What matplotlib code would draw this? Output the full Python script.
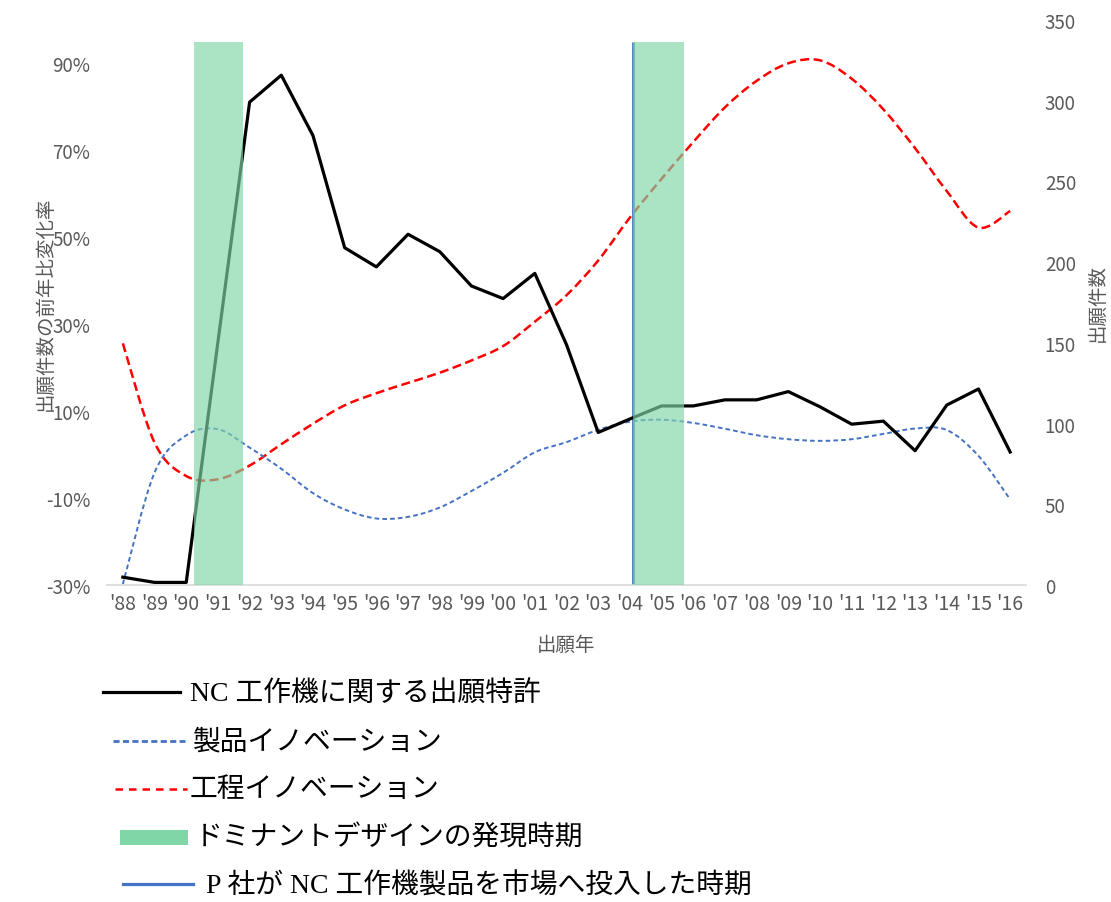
import matplotlib
matplotlib.use("Agg")
import matplotlib.pyplot as plt
from matplotlib.lines import Line2D
from matplotlib.patches import Rectangle, PathPatch
from matplotlib.path import Path

plt.rcParams["font.family"] = ["Noto Sans CJK JP", "DejaVu Sans"]

# ---- data -------------------------------------------------------------
years = list(range(1988, 2017))
year_labels = ["'" + str(y)[2:] for y in years]

# year-over-year change in NC machine-tool patent applications (%)
patent_growth = [-28.2, -29.4, -29.4, 25.9, 81.1, 87.3, 73.4, 47.6, 43.2, 50.7,
                 46.7, 38.8, 35.9, 41.7, 25.3, 5.1, 8.2, 11.2, 11.2, 12.6,
                 12.6, 14.5, 11.0, 7.0, 7.7, 0.9, 11.4, 15.1, 0.6]

# application counts (right axis)
product_innov = [0.5, 69.6, 92.7, 96.5, 85.1, 72, 56.9, 46.8, 41.2, 42.2,
                 48, 58.2, 69.5, 82.2, 88.5, 96.1, 101.2, 102.4, 100.4, 96.8,
                 92.8, 90.3, 89.3, 90.3, 93.6, 96.9, 96.0, 80.0, 53.0]
process_innov = [149.7, 88.2, 67.5, 65.5, 74.0, 87.2, 99.9, 111.3, 118.8, 125.2,
                 131.5, 139.1, 148, 163.1, 179.5, 201, 227.6, 251.6, 274.4, 295.9,
                 312.3, 323.2, 325, 313.6, 294.6, 270.6, 244, 221.4, 231.7]

dominant_periods = [(1990.25, 1991.8), (2004.1, 2005.7)]
market_entry_year = 2004.1
band_top = 95  # % on left axis

left_ticks = list(range(-30, 91, 20))
right_ticks = list(range(0, 351, 50))

legend_labels = [
    "NC 工作機に関する出願特許",
    "製品イノベーション",
    "工程イノベーション",
    "ドミナントデザインの発現時期",
    "P 社が NC 工作機製品を市場へ投入した時期",
]

# ---- styling -----------------------------------------------------------
GRAY = "#595959"
BLUE = "#4472c4"
RED = "#ff0000"
GREEN = "#80d6a7"
W, H = 1111, 903


def smooth_path(xs, ys):
    """Catmull-Rom style smoothed path through the points (like a smoothed line)."""
    pts = list(zip(xs, ys))
    verts = [pts[0]]
    codes = [Path.MOVETO]
    n = len(pts)
    for i in range(n - 1):
        p0 = pts[i - 1] if i > 0 else pts[i]
        p1 = pts[i]
        p2 = pts[i + 1]
        p3 = pts[i + 2] if i + 2 < n else pts[i + 1]
        c1 = (p1[0] + (p2[0] - p0[0]) / 6, p1[1] + (p2[1] - p0[1]) / 6)
        c2 = (p2[0] - (p3[0] - p1[0]) / 6, p2[1] - (p3[1] - p1[1]) / 6)
        verts += [c1, c2, p2]
        codes += [Path.CURVE4] * 3
    return Path(verts, codes)


fig = plt.figure(figsize=(W / 100, H / 100), dpi=100)
ax = fig.add_axes([107 / W, 1 - 586 / H, (1026 - 107) / W, (586 - 21) / H])
ax2 = ax.twinx()
ax.set_zorder(ax2.get_zorder() + 1)
ax.patch.set_visible(False)

# trend curves on the count axis
ax2.add_patch(PathPatch(smooth_path(years, process_innov), fill=False,
                        edgecolor=RED, lw=1.8, linestyle=(0, (3.6, 1.8))))
ax2.add_patch(PathPatch(smooth_path(years, product_innov), fill=False,
                        edgecolor=BLUE, lw=1.4, linestyle=(0, (2.4, 1.6))))

# market entry line and patent growth
ax.vlines(market_entry_year, left_ticks[0], band_top, color=BLUE, lw=2.0, zorder=2)
ax.plot(years, patent_growth, color="black", lw=2.3, zorder=3)

# dominant design periods (translucent bands on top)
for s, e in dominant_periods:
    ax.axvspan(s, e, ymin=0, ymax=(band_top + 30) / 130, color=GREEN,
               alpha=0.66, lw=0, zorder=4)

ax.set_xlim(1987.5, 2016.5)
ax.set_ylim(-30, 100)
ax2.set_ylim(0, 350)

ax.set_xticks(years)
ax.set_xticklabels(year_labels)
ax.set_yticks(left_ticks)
ax.set_yticklabels([f"{v}%" for v in left_ticks])
ax2.set_yticks(right_ticks)

ax.tick_params(axis="x", length=0, pad=6, labelsize=14, labelcolor=GRAY)
ax.tick_params(axis="y", length=0, pad=12, labelsize=13.5, labelcolor=GRAY)
ax2.tick_params(axis="y", length=0, pad=13.5, labelsize=13.5, labelcolor=GRAY)

for a in (ax, ax2):
    for side in ("top", "left", "right", "bottom"):
        a.spines[side].set_visible(False)
ax.spines["bottom"].set_visible(True)
ax.spines["bottom"].set_color("#d9d9d9")
ax.spines["bottom"].set_linewidth(1.2)

ax.set_ylabel("出願件数の前年比変化率", fontsize=14, color=GRAY, va="center")
ax.yaxis.set_label_coords(-0.0675, 0.5)
ax2.set_ylabel("出願件数", fontsize=14, color=GRAY, va="center", rotation=90)
ax2.yaxis.set_label_coords(1.0773, 0.5)
ax.set_xlabel("出願年", fontsize=14, color=GRAY, va="center")
ax.xaxis.set_label_coords(0.5, -0.1045)

# ---- legend below the chart --------------------------------------------
def fx(px):
    return px / W


def fy(py):
    return 1 - py / H


legend_font = ["Liberation Serif", "Noto Sans CJK JP"]

fig.add_artist(Line2D([fx(103), fx(180)], [fy(693), fy(693)], color="black", lw=2.3))
fig.add_artist(Line2D([fx(113), fx(185)], [fy(742), fy(742)], color=BLUE, lw=2.0,
                      linestyle=(0, (2.2, 1.2))))
fig.add_artist(Line2D([fx(115), fx(187)], [fy(790), fy(790)], color=RED, lw=1.8,
                      linestyle=(0, (3.0, 2.4))))
fig.add_artist(Rectangle((fx(120), fy(846)), fx(68), 15 / H, color=GREEN, lw=0))
fig.add_artist(Line2D([fx(123), fx(193)], [fy(885), fy(885)], color=BLUE, lw=2.3))

text_pos = [(190, 694), (193, 743), (190, 791), (195, 839), (206, 886)]
for (px, py), label in zip(text_pos, legend_labels):
    fig.text(fx(px), fy(py), label, fontsize=20, family=legend_font,
             va="center", ha="left", color="black")

fig.savefig("out.png", dpi=100)
